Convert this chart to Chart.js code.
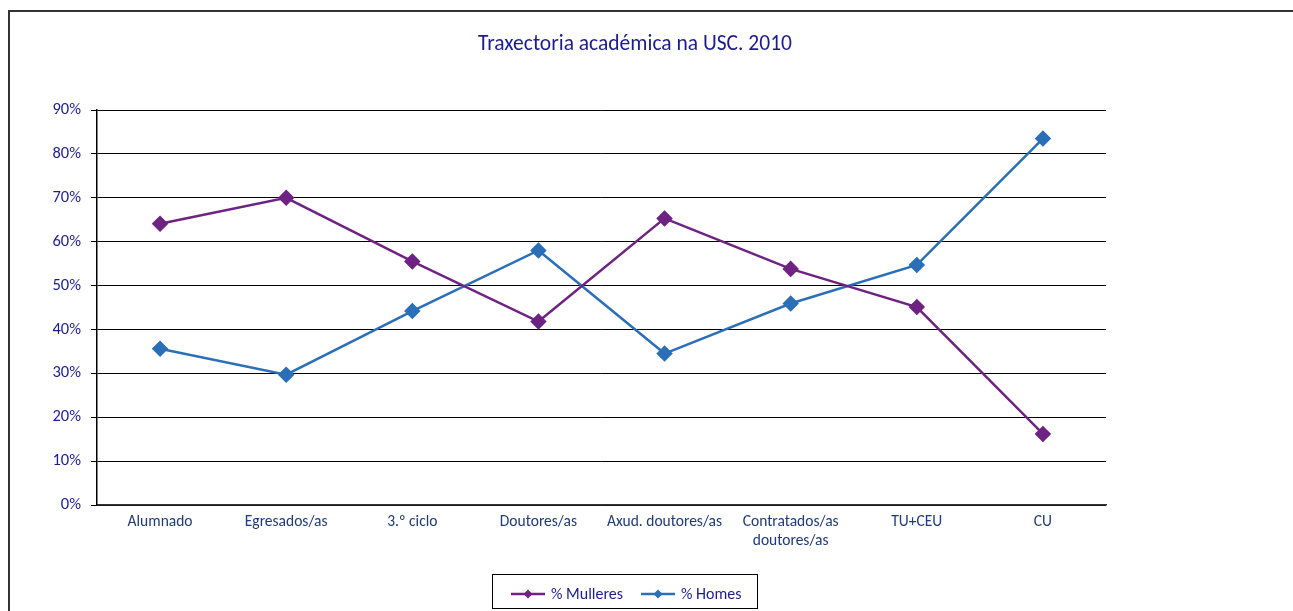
<!DOCTYPE html>
<html>
<head>
<meta charset="utf-8">
<script src="https://cdn.jsdelivr.net/npm/chart.js@4"></script>
<style>
  html, body { margin: 0; padding: 0; background: #fff; overflow: hidden; }
  #frame { position: absolute; left: 8px; top: 10px; width: 1400px; height: 700px; border-left: 2px solid #333; border-top: 2px solid #333; }
  #wrap { position: absolute; left: 0; top: 0; width: 1293px; height: 611px; }
</style>
</head>
<body>
<div id="frame"></div>
<div id="wrap"><canvas id="chart" width="1293" height="611"></canvas></div>
<script>
const categories = ["Alumnado", "Egresados/as", "3.º ciclo", "Doutores/as", "Axud. doutores/as", ["Contratados/as", "doutores/as"], "TU+CEU", "CU"];
const mulleres = [64.1, 70.0, 55.5, 41.8, 65.3, 53.8, 45.1, 16.2];
const homes = [35.6, 29.7, 44.2, 58.0, 34.5, 45.9, 54.7, 83.5];
const yTicks = [0, 10, 20, 30, 40, 50, 60, 70, 80, 90];

const titleText = "Traxectoria académica na USC. 2010";
const fontFam = "Carlito, Lato, 'Open Sans', sans-serif";
const navy = "#1c1c8c";

// title and boxed legend, drawn where the original puts them
const extras = {
    id: "extras",
    afterDraw(chart) {
        let ctx = chart.ctx;
        ctx.save();
        ctx.fillStyle = navy;
        ctx.font = "21.5px " + fontFam;
        ctx.textAlign = "center";
        ctx.textBaseline = "middle";
        ctx.fillText(titleText, 635, 45);

        // legend box
        ctx.strokeStyle = "#000";
        ctx.lineWidth = 1;
        ctx.strokeRect(492.5, 574.5, 265, 34);
        let items = [{ x: 511, ds: chart.data.datasets[0] }, { x: 641, ds: chart.data.datasets[1] }];
        ctx.font = "16px " + fontFam;
        ctx.textAlign = "left";
        items.forEach(it => {
            let y = 594;
            ctx.strokeStyle = it.ds.borderColor;
            ctx.lineWidth = 2.5;
            ctx.beginPath();
            ctx.moveTo(it.x, y);
            ctx.lineTo(it.x + 34, y);
            ctx.stroke();
            ctx.fillStyle = it.ds.borderColor;
            ctx.beginPath();
            let cx = it.x + 17;
            ctx.moveTo(cx, y - 4.5);
            ctx.lineTo(cx + 4.5, y);
            ctx.lineTo(cx, y + 4.5);
            ctx.lineTo(cx - 4.5, y);
            ctx.closePath();
            ctx.fill();
            ctx.fillStyle = navy;
            ctx.fillText(it.ds.label, it.x + 40, y + 1);
        });
        ctx.restore();
    }
};

const config = {
    type: "line",
    data: {
        labels: categories,
        datasets: [
            {
                label: "% Mulleres",
                data: mulleres,
                borderColor: "#6e2382",
                backgroundColor: "#6e2382",
                borderWidth: 2.5,
                pointStyle: "rectRot",
                pointRadius: 6.5,
                pointHoverRadius: 6.5,
                tension: 0,
                fill: false
            },
            {
                label: "% Homes",
                data: homes,
                borderColor: "#2a6fb8",
                backgroundColor: "#2a6fb8",
                borderWidth: 2.5,
                pointStyle: "rectRot",
                pointRadius: 6.5,
                pointHoverRadius: 6.5,
                tension: 0,
                fill: false
            }
        ]
    },
    options: {
        responsive: false,
        animation: false,
        layout: {
            padding: { top: 110, left: 30, right: 187, bottom: 10 }
        },
        plugins: {
            legend: { display: false },
            title: { display: false },
            tooltip: { enabled: false }
        },
        scales: {
            x: {
                offset: true,
                grid: { display: false, drawTicks: false },
                border: { color: "#333", width: 1.5 },
                ticks: {
                    color: "#1f3a78",
                    font: { family: fontFam, size: 15.5, lineHeight: 1.2 },
                    padding: 8,
                    maxRotation: 0,
                    autoSkip: false
                },
                afterFit(scale) { scale.height = 96; }
            },
            y: {
                min: 0,
                max: 90,
                afterBuildTicks(scale) { scale.ticks = yTicks.map(v => ({ value: v })); },
                grid: { color: "#000", lineWidth: 1, tickLength: 6, tickColor: "#000" },
                border: { color: "#000", width: 1.5 },
                ticks: {
                    color: navy,
                    font: { family: fontFam, size: 16.5 },
                    padding: 10,
                    callback: v => v + "%"
                },
                afterFit(scale) { scale.width = 67; }
            }
        }
    },
    plugins: [extras]
};

new Chart(document.getElementById("chart"), config);
</script>
</body>
</html>
